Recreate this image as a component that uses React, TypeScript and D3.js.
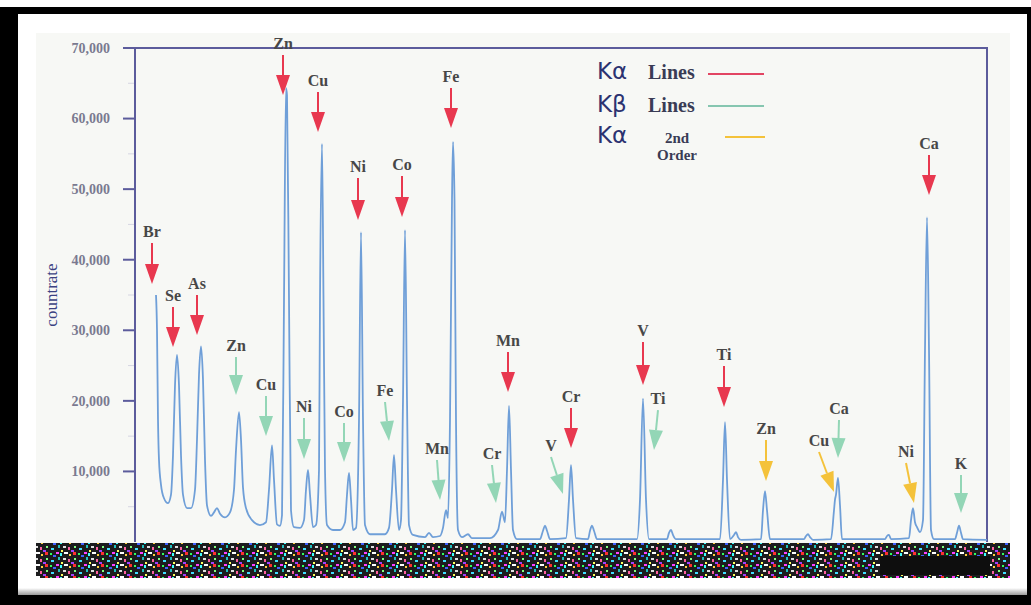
import React from "react";
import * as d3 from "d3";

// ---- Spectrum (channel, countrate) ----
const spectrumChannel = [
  21, 22, 23, 24, 26, 29, 33, 36, 38, 40, 42, 44, 46, 48, 52, 56, 60, 62, 64, 66, 68, 70, 72, 76, 79, 82, 85, 90, 95,
  99, 101, 104, 106, 108, 111, 117, 125, 131, 134, 137, 139, 142, 145, 147, 149, 151, 152, 154, 156, 159, 165, 169,
  171, 173, 175, 178, 181, 184, 185, 187, 188.5, 190, 192, 198, 205, 210, 212, 214, 216, 218, 221, 224, 226, 228, 230,
  235, 250, 254, 257, 259, 261, 264, 266, 268, 270, 272, 274, 278, 290, 294, 298, 305, 308, 311, 313, 315, 317, 318,
  319.5, 321, 323, 327, 333, 337, 355, 363, 367, 370, 372, 374, 376, 378, 382, 405, 408, 410, 412, 415, 431, 434, 436,
  438, 441, 453, 455, 457, 459, 462, 502, 505, 508, 511, 514, 532, 534, 536, 538, 541, 585, 588, 590, 592, 595, 599,
  601, 603, 606, 626, 628, 630, 632, 635, 669, 671, 673, 675, 678, 696, 699, 700, 701, 703, 705, 707, 750, 752, 754,
  756, 774, 776, 778, 780, 782, 785, 788, 790, 792, 794, 796, 799, 820, 822, 824, 826, 828, 852,
];
const spectrumCounts = [
  35000, 30000, 17300, 11600, 8100, 6200, 5500, 6700, 12300, 22200, 26500, 22200, 12300, 6700, 4800, 4800, 7400, 14500,
  23700, 27700, 23000, 11600, 5200, 3700, 4200, 4800, 4000, 3500, 4200, 7400, 13000, 18400, 14500, 7700, 4800, 3100,
  2400, 2800, 7400, 13700, 8800, 2500, 2300, 3800, 34300, 64300, 63300, 34300, 4500, 2100, 2000, 3100, 7400, 10200,
  6700, 2100, 2400, 10200, 34300, 56400, 34300, 10200, 2400, 1700, 1700, 2800, 6700, 9800, 6000, 1700, 2000, 17300,
  43900, 17300, 2400, 1100, 1100, 2000, 7400, 12300, 7400, 1700, 3100, 20100, 44200, 20100, 2400, 1000, 700, 1300, 700,
  850, 2000, 4500, 3400, 17300, 48500, 56700, 48500, 17300, 1700, 700, 1100, 550, 550, 1700, 4300, 2800, 10200, 19300,
  10200, 1700, 400, 400, 1600, 2300, 1600, 400, 550, 6000, 10900, 6000, 550, 400, 1600, 2300, 1600, 400, 400, 6000,
  20300, 6000, 400, 400, 1300, 1700, 1000, 400, 400, 8800, 17000, 8800, 400, 1000, 1400, 700, 300, 400, 4500, 7200,
  4500, 400, 400, 850, 1100, 700, 300, 400, 4500, 6000, 6700, 9100, 5200, 400, 400, 850, 1000, 400, 550, 3100, 4800,
  2800, 2100, 1400, 3100, 27200, 46000, 27200, 1700, 400, 400, 1300, 2300, 1300, 400, 300,
];

const yTicks = [10000, 20000, 30000, 40000, 50000, 60000, 70000];
const yMinorTicks = [5000, 15000, 25000, 35000, 45000, 55000, 65000];

// ---- Peak annotations: element, arrow tip and tail (channel, countrate) ----
const kAlphaArrows = [
  { el: "Br", tip: [17, 36560], tail: [17, 42370] },
  { el: "Se", tip: [38, 27630], tail: [38, 33300] },
  { el: "As", tip: [62, 29330], tail: [62, 35000] },
  { el: "Zn", tip: [148, 63340], tail: [148, 69010] },
  { el: "Cu", tip: [183, 58100], tail: [183, 63770] },
  { el: "Ni", tip: [223, 45630], tail: [223, 51580] },
  { el: "Co", tip: [267, 46050], tail: [267, 51860] },
  { el: "Fe", tip: [316, 58670], tail: [316, 64330] },
  { el: "Mn", tip: [373, 21260], tail: [373, 26920] },
  { el: "Cr", tip: [436, 13320], tail: [436, 18990] },
  { el: "V", tip: [508, 22250], tail: [508, 28340] },
  { el: "Ti", tip: [589, 19130], tail: [589, 24940] },
  { el: "Ca", tip: [794, 49170], tail: [794, 54840] },
];
const kBetaArrows = [
  { el: "Zn", tip: [101, 20830], tail: [101, 26220] },
  { el: "Cu", tip: [131, 15020], tail: [131, 20690] },
  { el: "Ni", tip: [169, 11760], tail: [169, 17570] },
  { el: "Co", tip: [209, 11340], tail: [209, 16860] },
  { el: "Fe", tip: [254, 14310], tail: [250, 19840] },
  { el: "Mn", tip: [305, 5950], tail: [302, 11620] },
  { el: "Cr", tip: [361, 5530], tail: [357, 10910] },
  { el: "V", tip: [428, 6800], tail: [416, 12040] },
  { el: "Ti", tip: [519, 13040], tail: [523, 18700] },
  { el: "Ca", tip: [703, 11900], tail: [704, 17290] },
  { el: "K", tip: [826, 4110], tail: [826, 9490] },
];
const secondOrderArrows = [
  { el: "Zn", tip: [631, 8640], tail: [631, 14450] },
  { el: "Cu", tip: [699, 7090], tail: [684, 12750] },
  { el: "Ni", tip: [779, 5530], tail: [771, 11190] },
];

const W = 1031;
const H = 605;
const plot = { left: 135, right: 987, top: 48, bottom: 542 };

const SERIF = '"Liberation Serif", "Times New Roman", serif';
const RED = "#e8384f";
const GREEN = "#93d6b6";
const YELLOW = "#f4c23a";
const FRAME = "#5c5c9c";

function Arrow({ x0, y0, x1, y1, color, label }) {
  const dx = x1 - x0;
  const dy = y1 - y0;
  const len = Math.sqrt(dx * dx + dy * dy);
  const ux = dx / len;
  const uy = dy / len;
  const nx = -uy;
  const ny = ux;
  const headL = 20;
  const headW = 7;
  const bx = x1 - ux * headL;
  const by = y1 - uy * headL;
  const tri = `M${x1},${y1}L${bx + nx * headW},${by + ny * headW}L${bx - nx * headW},${by - ny * headW}Z`;
  return (
    <g>
      <line x1={x0} y1={y0} x2={bx} y2={by} stroke={color} strokeWidth={2} />
      <path d={tri} fill={color} />
      <text
        x={x0}
        y={y0 - 6}
        textAnchor="middle"
        fontFamily={SERIF}
        fontSize={16}
        fontWeight="bold"
        fill="#474747"
      >
        {label}
      </text>
    </g>
  );
}

export default function App() {
  const x = d3.scaleLinear().domain([0, 852]).range([plot.left, plot.right]);
  const y = d3.scaleLinear().domain([0, 70000]).range([plot.bottom, plot.top]);

  const pts = spectrumChannel.map((c, i) => [c, spectrumCounts[i]]);
  const line = d3
    .line()
    .x((d) => x(d[0]))
    .y((d) => y(d[1]))
    .curve(d3.curveMonotoneX);
  const pathD = line(pts);

  const renderArrows = (arr, color) =>
    arr.map((a, i) => (
      <Arrow
        key={color + i}
        x0={x(a.tail[0])}
        y0={y(a.tail[1])}
        x1={x(a.tip[0])}
        y1={y(a.tip[1])}
        color={color}
        label={a.el}
      />
    ));

  return (
    <svg
      width={W}
      height={H}
      style={{ position: "absolute", left: 0, top: 0, display: "block" }}
    >
      <defs>
        <pattern id="noise" width="28" height="12" patternUnits="userSpaceOnUse">
          <rect x="0" y="0" width="28" height="12" fill="#1c1c1e" />
          <rect x="0" y="0" width="3" height="2" fill="#ff40ff" />
          <rect x="4" y="1" width="2" height="3" fill="#40ffff" />
          <rect x="8" y="0" width="4" height="2" fill="#ffffff" />
          <rect x="13" y="2" width="2" height="2" fill="#ffd040" />
          <rect x="17" y="0" width="3" height="3" fill="#ff3030" />
          <rect x="22" y="1" width="2" height="2" fill="#30ff60" />
          <rect x="25" y="3" width="3" height="2" fill="#4060ff" />
          <rect x="2" y="5" width="2" height="3" fill="#20c0c0" />
          <rect x="7" y="6" width="3" height="2" fill="#e0e0e0" />
          <rect x="12" y="7" width="2" height="3" fill="#ff60a0" />
          <rect x="18" y="6" width="2" height="2" fill="#80ff80" />
          <rect x="23" y="8" width="3" height="2" fill="#40e0ff" />
          <rect x="5" y="10" width="2" height="2" fill="#ffff60" />
          <rect x="15" y="10" width="3" height="2" fill="#a040ff" />
        </pattern>
        <linearGradient id="bevelB" x1="0" y1="0" x2="0" y2="1">
          <stop offset="0" stopColor="#ffffff" />
          <stop offset="1" stopColor="#9a9a9a" />
        </linearGradient>
      </defs>

      {/* outer frame */}
      <rect x={0} y={0} width={W} height={H} fill="#ffffff" />
      <rect x={0} y={7} width={W} height={H - 7} fill="#000000" />
      <rect x={18} y={14} width={1009} height={581} fill="#ffffff" />
      <rect x={18} y={588} width={1009} height={7} fill="url(#bevelB)" />
      <rect x={36} y={33} width={974} height={545} fill="#f7f8f5" />

      {/* minor and major ticks */}
      {yMinorTicks.map((t) => (
        <line key={"m" + t} x1={plot.left - 7} x2={plot.left} y1={y(t)} y2={y(t)} stroke="#d6d6e2" strokeWidth={1} />
      ))}
      {yTicks.map((t) => (
        <g key={t}>
          <line x1={plot.left - 12} x2={plot.left} y1={y(t)} y2={y(t)} stroke={FRAME} strokeWidth={2} />
          <text
            x={plot.left - 25}
            y={y(t)}
            dy="0.35em"
            textAnchor="end"
            fontFamily={SERIF}
            fontSize={14}
            fontWeight="bold"
            fill="#7a7a90"
          >
            {d3.format(",")(t)}
          </text>
        </g>
      ))}

      {/* plot frame */}
      <path
        d={`M${plot.left},${plot.bottom}V${plot.top}H${plot.right}V${plot.bottom}`}
        fill="none"
        stroke={FRAME}
        strokeWidth={2}
      />

      {/* y label */}
      <text
        transform={`translate(${57},${y(35000)}) rotate(-90)`}
        textAnchor="middle"
        fontFamily={SERIF}
        fontSize={17}
        fill="#3b4282"
      >
        countrate
      </text>

      {/* spectrum */}
      <path d={pathD} fill="none" stroke="#6f9fd8" strokeWidth={1.8} strokeLinejoin="round" />

      {/* arrows */}
      {renderArrows(kAlphaArrows, RED)}
      {renderArrows(kBetaArrows, GREEN)}
      {renderArrows(secondOrderArrows, YELLOW)}

      {/* legend */}
      <g fill="#2b3270" fontFamily='"DejaVu Sans", sans-serif' fontSize={23}>
        <text x={597} y={79}>Kα</text>
        <text x={597} y={112}>Kβ</text>
        <text x={597} y={143}>Kα</text>
      </g>
      <g fill="#3a3c55" fontFamily={SERIF} fontSize={20} fontWeight="bold">
        <text x={648} y={79}>Lines</text>
        <text x={648} y={112}>Lines</text>
      </g>
      <g fill="#3a3c55" fontFamily={SERIF} fontSize={15} fontWeight="bold" textAnchor="middle">
        <text x={677} y={143}>2nd</text>
        <text x={677} y={160}>Order</text>
      </g>
      <line x1={708} x2={764} y1={74} y2={74} stroke="#e24563" strokeWidth={2} />
      <line x1={708} x2={764} y1={106} y2={106} stroke="#86c6b0" strokeWidth={2} />
      <line x1={725} x2={765} y1={137} y2={137} stroke={YELLOW} strokeWidth={2} />

      {/* corrupted band at the bottom of the scan */}
      <rect x={36} y={543} width={974} height={35} fill="url(#noise)" />
      <rect x={880} y={556} width={110} height={19} fill="#0e0e0e" />
    </svg>
  );
}
